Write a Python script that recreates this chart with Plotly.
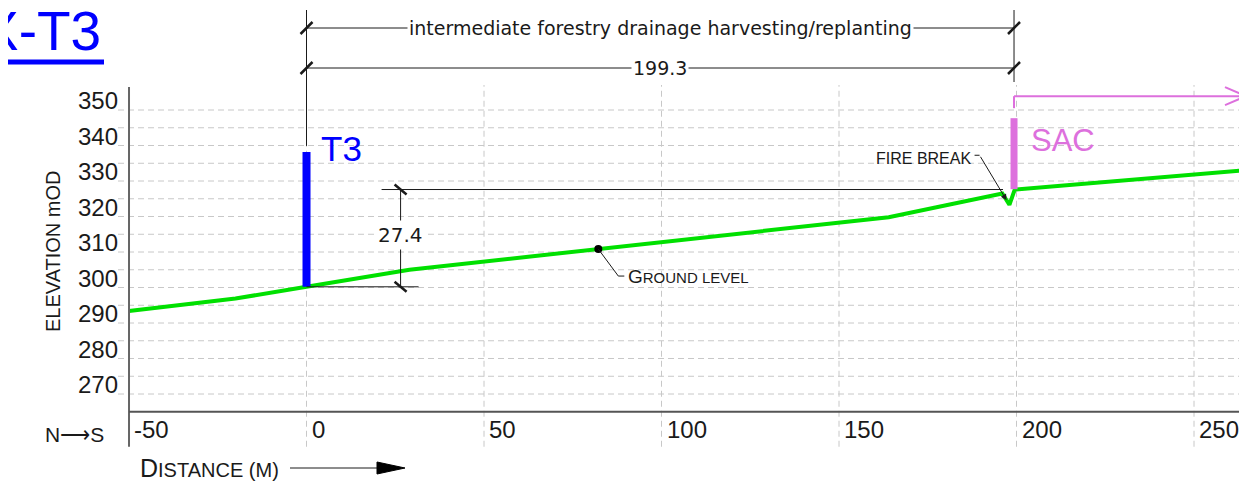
import numpy as np
import plotly.graph_objects as go

# ground profile along section X-T3 (distance m, elevation mOD)
station = [-50, -20, 0, 29, 164, 196, 198, 199.5, 265]
elevation = [293.4, 296.9, 300.2, 305.0, 319.8, 326.5, 323.3, 327.6, 333.1]

# features
t3_station = 0
t3_top = 338.2
sac_station = 199.3
sac_bottom = 327.7
sac_top = 347.7
section_length = 199.3
rise = 27.4
ground_label_station = 82.2
firebreak_station = 197.2

x_ticks = [-50, 0, 50, 100, 150, 200, 250]
x_labels = ["-50", "0", "50", "100", "150", "200", "250"]
y_ticks = [270, 280, 290, 300, 310, 320, 330, 340, 350]
y_grid = list(range(270, 351, 5))

# drawing scale: 1 m = 3.55 px both ways
# page origin (top-left of the window) in data units; the figure sits 8px in (body margin)
PX = 3.55
u = 1 / PX  # one pixel in data units
P0X = -86.34
P0Y = 380.99
OFF = 8
W, H = 1247 - OFF, 485 - OFF
X_MIN = P0X + OFF * u
X_MAX = P0X + 1247 * u
Y_MAX = P0Y - OFF * u
Y_MIN = P0Y - 485 * u
AXIS_Y = 265

ink = "#1a1a1a"
grid = "#c8c8c8"
blue = "#0000ff"
pink = "#dd70dd"
green = "#00e000"
font = "Liberation Sans"

fig = go.Figure()


def seg(x0, y0, x1, y1, color=ink, width=1, dash="solid", layer="above"):
    fig.add_shape(type="line", x0=x0, y0=y0, x1=x1, y1=y1, xref="x", yref="y",
                  line=dict(color=color, width=width, dash=dash), layer=layer)


def label(x, y, text, size=19, color=ink, xanchor="center", yanchor="middle", family=font, **kw):
    fig.add_annotation(x=x, y=y, text=text, showarrow=False, xanchor=xanchor,
                       yanchor=yanchor, font=dict(family=family, size=size, color=color), **kw)


# grid + axes
for g in y_grid:
    seg(-50 - 11 * u, g, X_MAX, g, grid, 1, "6px,4px", "below")
for t in x_ticks[1:]:
    seg(t, AXIS_Y - 35 * u, t, P0Y - 85 * u, grid, 1, "6px,4px", "below")
seg(-50, AXIS_Y - 35 * u, -50, P0Y - 87 * u, "#666666", 2)
seg(-50, AXIS_Y, X_MAX, AXIS_Y, "#555555", 2)

for t in y_ticks:
    label(-50 - 9 * u, t, str(t), 24, xanchor="right", yanchor="bottom", yshift=-6)
for t, s in zip(x_ticks, x_labels):
    label(t + 3 * u, AXIS_Y - 18 * u, s, 24, xanchor="left")

# ground line
fig.add_trace(go.Scatter(x=station, y=elevation, mode="lines",
                         line=dict(color=green, width=4), hoverinfo="skip"))

g0 = float(np.interp(t3_station, station, elevation))

# T3 and SAC markers
fig.add_trace(go.Scatter(x=[t3_station, t3_station], y=[g0, t3_top], mode="lines",
                         line=dict(color=blue, width=8), hoverinfo="skip"))
fig.add_trace(go.Scatter(x=[sac_station, sac_station], y=[sac_bottom, sac_top], mode="lines",
                         line=dict(color=pink, width=7), hoverinfo="skip"))
label(t3_station + 12 * u, t3_top + 3 * u, "T3", 35, blue, xanchor="left")
label(sac_station + 15 * u, sac_top - 22 * u, "SAC", 31, pink, xanchor="left")

# SAC direction arrow
arr_y = sac_top + 22 * u
seg(sac_station, sac_top + 10 * u, sac_station, arr_y, pink, 2)
seg(sac_station, arr_y, X_MAX - 1 * u, arr_y, pink, 2)
seg(X_MAX - 22 * u, arr_y + 9 * u, X_MAX - 1 * u, arr_y, pink, 2)
seg(X_MAX - 22 * u, arr_y - 9 * u, X_MAX - 1 * u, arr_y, pink, 2)

# top dimensions
dim1 = P0Y - 28 * u
dim2 = P0Y - 68 * u
seg(t3_station, P0Y - 10 * u, t3_station, t3_top + 6 * u)
seg(section_length, P0Y - 10 * u, section_length, P0Y - 82 * u)
for yy in (dim1, dim2):
    seg(0, yy, section_length, yy)
    for xx in (0, section_length):
        seg(xx - 6 * u, yy - 6 * u, xx + 6 * u, yy + 6 * u, ink, 2.5)
label(section_length / 2, dim1, "intermediate forestry drainage harvesting/replanting", 19,
      bgcolor="white", borderpad=1, family="DejaVu Sans")
label(section_length / 2, dim2, f"{section_length:.1f}", 19, bgcolor="white", borderpad=1, family="DejaVu Sans")

# rise dimension
top = g0 + rise
xd = t3_station + 26.5
seg(xd, g0, xd, top)
seg(xd - 19 * u, top, firebreak_station - 1, top)
seg(t3_station, g0, xd + 18 * u, g0)
for yy in (g0, top):
    seg(xd - 6 * u, yy + 5 * u, xd + 6 * u, yy - 5 * u, ink, 2.5)
label(xd, (g0 + top) / 2 + 1, f"{rise:.1f}", 20, bgcolor="white", borderpad=2, family="DejaVu Sans")

# ground level callout
gl = float(np.interp(ground_label_station, station, elevation))
fig.add_trace(go.Scatter(x=[ground_label_station], y=[gl], mode="markers",
                         marker=dict(color="black", size=8), hoverinfo="skip"))
gx = ground_label_station + 20 * u
gy = gl - 27 * u
seg(ground_label_station, gl, gx, gy)
seg(gx, gy, gx + 6 * u, gy)
label(gx + 8 * u, gy, "G<span style='font-size:15px'>ROUND LEVEL</span>", 19, xanchor="left")

# fire break callout
fb = float(np.interp(firebreak_station, station, elevation))
fx = firebreak_station - 27 * u
fy = fb + 45 * u
seg(fx - 5 * u, fy, fx, fy)
fig.add_annotation(x=firebreak_station, y=fb, ax=fx, ay=fy, axref="x", ayref="y", xref="x", yref="y",
                   text="", showarrow=True, arrowhead=2, arrowsize=1.2, arrowwidth=1, arrowcolor=ink)
label(fx - 7 * u, fy - 3 * u, "FIRE BREAK", 16, xanchor="right")

# axis titles and section title
label(P0X + 53 * u, P0Y - 251 * u, "ELEVATION mOD", 20, textangle=-90)
label(P0X + 74 * u, P0Y - 434 * u, "N⟶S", 21)
dy = P0Y - 468 * u
label(P0X + 138 * u, dy, "D<span style='font-size:20px'>ISTANCE (M)</span>", 25, xanchor="left")
seg(P0X + 290 * u, dy, P0X + 380 * u, dy)
fig.add_shape(type="path", xref="x", yref="y", fillcolor="black", line=dict(color="black", width=1),
              path=f"M {P0X + 377 * u} {dy + 6 * u} L {P0X + 405 * u} {dy} L {P0X + 377 * u} {dy - 6 * u} Z")

label(P0X + 103 * u, P0Y - 31 * u, "X-T3", 55, blue, xanchor="right")
seg(X_MIN, P0Y - 62 * u, P0X + 104 * u, P0Y - 62 * u, blue, 5)

fig.update_layout(
    width=W, height=H,
    margin=dict(l=0, r=0, t=0, b=0),
    plot_bgcolor="white", paper_bgcolor="white",
    showlegend=False,
    xaxis=dict(range=[X_MIN, X_MAX], visible=False, fixedrange=True),
    yaxis=dict(range=[Y_MIN, Y_MAX], visible=False, fixedrange=True),
)

fig.write_html("out.html", config={"displayModeBar": False})
